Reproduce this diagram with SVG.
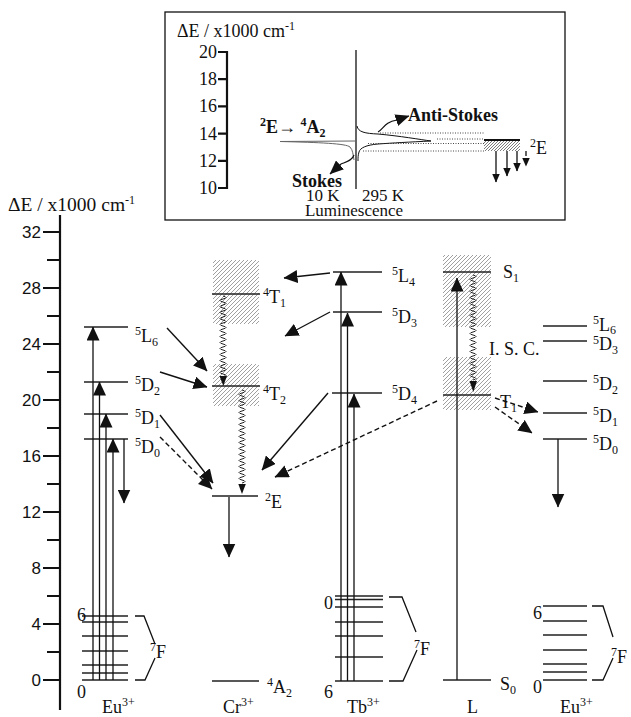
<svg xmlns="http://www.w3.org/2000/svg" width="631" height="717" viewBox="0 0 631 717">
<style>
 .t{font-family:"Liberation Serif","Times New Roman",serif;font-size:18px;fill:#111}
 .s{font-family:"Liberation Sans",Arial,sans-serif;font-size:17px;fill:#111}
 .b{font-weight:bold}
 .sm{font-size:12px}
 .f16{font-size:16px}
 .lv{stroke:#222;stroke-width:1.4;fill:none}
 .ln{stroke:#111;stroke-width:1.3;fill:none}
 .ax{stroke:#111;stroke-width:2.2;fill:none}
 .dash{stroke-dasharray:5 3}
 .wv{stroke:#222;stroke-width:1;fill:none}
 .dot{stroke:#333;stroke-width:0.9;stroke-dasharray:1 1.5;fill:none}
 .hat{fill:url(#hatch)}
 .ah{fill:#111}
</style>
<defs>
 <pattern id="hatch" patternUnits="userSpaceOnUse" width="4" height="4">
  <path d="M-1,1 L1,-1 M0,4 L4,0 M3,5 L5,3" stroke="#888" stroke-width="0.8"/>
 </pattern>
 <pattern id="hatch2" patternUnits="userSpaceOnUse" width="3" height="3">
  <path d="M-1,1 L1,-1 M0,3 L3,0 M2,4 L4,2" stroke="#444" stroke-width="0.7"/>
 </pattern>
 <marker id="ah" markerUnits="userSpaceOnUse" viewBox="0 0 14 13" refX="13.5" refY="6.5" markerWidth="14" markerHeight="13" orient="auto">
  <path d="M0,0 L14,6.5 L0,13 z" fill="#111"/>
 </marker>
 <marker id="ahs" markerUnits="userSpaceOnUse" viewBox="0 0 9 8" refX="8.5" refY="4" markerWidth="9" markerHeight="8" orient="auto">
  <path d="M0,0 L9,4 L0,8 z" fill="#111"/>
 </marker>
 <marker id="ahm" markerUnits="userSpaceOnUse" viewBox="0 0 14 12" refX="13.5" refY="6" markerWidth="14" markerHeight="12" orient="auto">
  <path d="M0,0 L14,6 L0,12 z" fill="#111"/>
 </marker>
</defs>

<!-- inset: 2E -> 4A2 luminescence -->
<g id="inset">
 <rect x="165" y="12" width="400" height="208" fill="none" stroke="#111" stroke-width="1.3"/>
 <text class="t" x="177" y="37">ΔE / x1000 cm<tspan class="sm" dy="-7">-1</tspan></text>
 <path class="ax" d="M227,51 V189 M218,52 H227 M218,79.2 H227 M218,106.4 H227 M218,133.6 H227 M218,160.8 H227 M218,188 H227"/>
 <g class="t" text-anchor="end">
  <text x="217" y="58">20</text>
  <text x="217" y="85">18</text>
  <text x="217" y="112">16</text>
  <text x="217" y="140">14</text>
  <text x="217" y="167">12</text>
  <text x="217" y="194">10</text>
 </g>
 <path class="ln" d="M356,50 V189"/>
 <!-- 10 K band -->
 <path d="M355,141 L280,141.5 C320,142.5 346,143.5 350,147 C353,150 353,155 354,160" fill="none" stroke="#666" stroke-width="1"/>
 <!-- 295 K band -->
 <path d="M357,126 C358,132 365,133.5 378,134 C400,136 420,139.5 431,141 C410,142 392,143 378,144 C366,145 360,148 359,152 C358,155 358,158 358,161" fill="none" stroke="#111" stroke-width="1"/>
 <path class="dot" d="M380,133 H484 M437,139 H484 M368,143.5 H484 M363,151 H484"/>
 <text class="t b" x="260" y="133"><tspan class="sm" dy="-7">2</tspan><tspan dy="7">E→ </tspan><tspan class="sm" dy="-7">4</tspan><tspan dy="7">A</tspan><tspan class="sm" dy="4">2</tspan></text>
 <text class="t b" x="408" y="121">Anti-Stokes</text>
 <text class="t b" x="292" y="187">Stokes</text>
 <path d="M378,132 C384,129 384,122 397,120 L409,116" fill="none" stroke="#111" stroke-width="1.2" marker-end="url(#ahm)"/>
 <path d="M354,155 C352,161 346,162 341,164 L330,174" fill="none" stroke="#111" stroke-width="1.2" marker-end="url(#ahm)"/>
 <rect x="484" y="139" width="36" height="12" fill="url(#hatch2)"/>
 <path d="M484,140 H520" stroke="#111" stroke-width="2"/>
 <path class="ln" d="M496,151 V182" marker-end="url(#ahs)"/>
 <path class="ln" d="M507,151 V176" marker-end="url(#ahs)"/>
 <path class="ln" d="M517,151 V171" marker-end="url(#ahs)"/>
 <path class="ln dash" d="M526,151 V166" marker-end="url(#ahs)"/>
 <text class="t" x="530" y="154"><tspan class="sm" dy="-7">2</tspan><tspan dy="7">E</tspan></text>
 <text class="t" x="306" y="201" style="font-size:17px">10 K</text>
 <text class="t" x="362" y="201" style="font-size:17px">295 K</text>
 <text class="t" x="354" y="216" text-anchor="middle" style="font-size:17px">Luminescence</text>
</g>

<!-- energy axis -->
<g id="axis">
 <text class="t" x="8" y="211" style="font-size:19.5px">ΔE / x1000 cm<tspan class="sm" dy="-7">-1</tspan></text>
 <path class="ax" d="M60,215 V710"/>
 <path class="ax" d="M43,232 H60 M43,288 H60 M43,344 H60 M43,400 H60 M43,456 H60 M43,512 H60 M43,568 H60 M43,624 H60 M43,680 H60"/>
 <path class="ax" d="M47,260 H60 M47,316 H60 M47,372 H60 M47,428 H60 M47,484 H60 M47,540 H60 M47,596 H60 M47,652 H60"/>
 <g class="s" text-anchor="end">
  <text x="41" y="238">32</text>
  <text x="41" y="294">28</text>
  <text x="41" y="350">24</text>
  <text x="41" y="406">20</text>
  <text x="41" y="462">16</text>
  <text x="41" y="518">12</text>
  <text x="41" y="574">8</text>
  <text x="41" y="630">4</text>
  <text x="41" y="686">0</text>
 </g>
</g>

<!-- Eu3+ (left) -->
<g id="eu-left">
 <path class="lv" d="M84,327 H128 M84,382 H128 M84,414 H128 M84,439 H128"/>
 <path class="lv" d="M82,616 H128 M82,622 H128 M82,636 H128 M82,651 H128 M82,665 H128 M82,673 H128 M82,680 H128"/>
 <path class="ln" d="M93,680 V327" marker-end="url(#ah)"/>
 <path class="ln" d="M99.5,680 V382" marker-end="url(#ah)"/>
 <path class="ln" d="M106,680 V414" marker-end="url(#ah)"/>
 <path class="ln" d="M113,680 V439" marker-end="url(#ah)"/>
 <path class="ln" d="M124,439 V503" marker-end="url(#ah)"/>
 <path class="ln" d="M135,616 H144 L155,644 M155,658 L145,680 H135"/>
 <text class="t" x="135" y="342"><tspan class="sm" dy="-7">5</tspan><tspan dy="7">L</tspan><tspan class="sm" dy="4">6</tspan></text>
 <text class="t" x="135" y="391"><tspan class="sm" dy="-7">5</tspan><tspan dy="7">D</tspan><tspan class="sm" dy="4">2</tspan></text>
 <text class="t" x="135" y="424"><tspan class="sm" dy="-7">5</tspan><tspan dy="7">D</tspan><tspan class="sm" dy="4">1</tspan></text>
 <text class="t" x="135" y="453"><tspan class="sm" dy="-7">5</tspan><tspan dy="7">D</tspan><tspan class="sm" dy="4">0</tspan></text>
 <text class="t" x="77" y="621">6</text>
 <text class="t" x="77" y="698">0</text>
 <text class="t" x="150" y="658"><tspan class="sm" dy="-7">7</tspan><tspan dy="7">F</tspan></text>
 <text class="t" x="102" y="713">Eu<tspan class="sm" dy="-7">3+</tspan></text>
</g>

<!-- Cr3+ -->
<g id="cr">
 <rect class="hat" x="213" y="260" width="46" height="64"/>
 <rect class="hat" x="213" y="364" width="46" height="42"/>
 <path class="lv" d="M212,294 H260 M212,386 H260 M212,496 H258 M212,681 H259"/>
 <path class="wv" d="M223,296 q6,1.5 0,3 t0,3 t0,3 t0,3 t0,3 t0,3 t0,3 t0,3 t0,3 t0,3 t0,3 t0,3 t0,3 t0,3 t0,3 t0,3 t0,3 t0,3 t0,3 t0,3 t0,3 t0,3 t0,3 t0,3 t0,3 t0,3 t0,3"/>
 <path class="ah" d="M219.5,376 H227 L223.3,386 z"/>
 <path class="wv" d="M242,390 q6,1.5 0,3 t0,3 t0,3 t0,3 t0,3 t0,3 t0,3 t0,3 t0,3 t0,3 t0,3 t0,3 t0,3 t0,3 t0,3 t0,3 t0,3 t0,3 t0,3 t0,3 t0,3 t0,3 t0,3 t0,3 t0,3 t0,3 t0,3 t0,3 t0,3 t0,3 t0,3"/>
 <path class="ah" d="M238.3,484 H245.8 L242,494 z"/>
 <path class="ln" d="M229,497 V557" marker-end="url(#ah)"/>
 <text class="t" x="263" y="303"><tspan class="sm" dy="-7">4</tspan><tspan dy="7">T</tspan><tspan class="sm" dy="4">1</tspan></text>
 <text class="t" x="263" y="400"><tspan class="sm" dy="-7">4</tspan><tspan dy="7">T</tspan><tspan class="sm" dy="4">2</tspan></text>
 <text class="t" x="265" y="508"><tspan class="sm" dy="-7">2</tspan><tspan dy="7">E</tspan></text>
 <text class="t" x="267" y="693"><tspan class="sm" dy="-7">4</tspan><tspan dy="7">A</tspan><tspan class="sm" dy="4">2</tspan></text>
 <text class="t" x="223" y="713">Cr<tspan class="sm" dy="-7">3+</tspan></text>
</g>

<!-- Tb3+ -->
<g id="tb">
 <path class="lv" d="M333,272 H382 M333,312 H382 M332,393 H382"/>
 <path class="lv" d="M335,596 H383 M335,599.5 H383 M335,607 H383 M335,622 H383 M335,636 H383 M335,657 H383 M335,681 H383"/>
 <path class="ln" d="M341,681 V272" marker-end="url(#ah)"/>
 <path class="ln" d="M347.5,681 V313" marker-end="url(#ah)"/>
 <path class="ln" d="M354,681 V394" marker-end="url(#ah)"/>
 <path class="ln" d="M389,597 H402 L416,632 M417,650 L403,681 H389"/>
 <text class="t" x="392" y="282"><tspan class="sm" dy="-7">5</tspan><tspan dy="7">L</tspan><tspan class="sm" dy="4">4</tspan></text>
 <text class="t" x="392" y="323"><tspan class="sm" dy="-7">5</tspan><tspan dy="7">D</tspan><tspan class="sm" dy="4">3</tspan></text>
 <text class="t" x="392" y="400"><tspan class="sm" dy="-7">5</tspan><tspan dy="7">D</tspan><tspan class="sm" dy="4">4</tspan></text>
 <text class="t" x="324" y="609">0</text>
 <text class="t" x="324" y="698">6</text>
 <text class="t" x="414" y="655"><tspan class="sm" dy="-7">7</tspan><tspan dy="7">F</tspan></text>
 <text class="t" x="347" y="713">Tb<tspan class="sm" dy="-7">3+</tspan></text>
</g>

<!-- ligand L -->
<g id="ligand">
 <rect class="hat" x="443" y="255" width="48" height="72"/>
 <rect class="hat" x="443" y="357" width="48" height="53"/>
 <path class="lv" d="M443,272 H491 M443,395 H491 M443,680 H491"/>
 <path class="ln" d="M457,680 V278" marker-end="url(#ah)"/>
 <path class="wv" d="M473,275 q6,1.5 0,3 t0,3 t0,3 t0,3 t0,3 t0,3 t0,3 t0,3 t0,3 t0,3 t0,3 t0,3 t0,3 t0,3 t0,3 t0,3 t0,3 t0,3 t0,3 t0,3 t0,3 t0,3 t0,3 t0,3 t0,3 t0,3 t0,3 t0,3 t0,3 t0,3 t0,3 t0,3 t0,3 t0,3 t0,3"/>
 <path class="ah" d="M469.5,381 H477 L473.3,392 z"/>
 <text class="t" x="503" y="278">S<tspan class="sm" dy="4">1</tspan></text>
 <text class="t" x="500" y="408">T<tspan class="sm" dy="4">1</tspan></text>
 <text class="t" x="500" y="690">S<tspan class="sm" dy="4">0</tspan></text>
 <text class="t" x="489" y="355">I. S. C.</text>
 <text class="t" x="467" y="713">L</text>
</g>

<!-- Eu3+ (right) -->
<g id="eu-right">
 <path class="lv" d="M543,326 H587 M543,341 H587 M543,381 H587 M543,413 H587 M543,439 H587"/>
 <path class="lv" d="M543,606 H587 M543,621 H587 M543,635 H587 M543,650 H587 M543,664 H587 M543,672 H587 M543,680 H587"/>
 <path class="ln" d="M558,439 V507" marker-end="url(#ah)"/>
 <path class="ln" d="M592,606 H603 L613,637 M613,658 L603,680 H592"/>
 <text class="t" x="593" y="331"><tspan class="sm" dy="-7">5</tspan><tspan dy="7">L</tspan><tspan class="sm" dy="3">6</tspan></text>
 <text class="t" x="593" y="350"><tspan class="sm" dy="-6">5</tspan><tspan dy="6">D</tspan><tspan class="sm" dy="4">3</tspan></text>
 <text class="t" x="593" y="390"><tspan class="sm" dy="-7">5</tspan><tspan dy="7">D</tspan><tspan class="sm" dy="4">2</tspan></text>
 <text class="t" x="593" y="422"><tspan class="sm" dy="-7">5</tspan><tspan dy="7">D</tspan><tspan class="sm" dy="4">1</tspan></text>
 <text class="t" x="593" y="450"><tspan class="sm" dy="-7">5</tspan><tspan dy="7">D</tspan><tspan class="sm" dy="4">0</tspan></text>
 <text class="t" x="533" y="619">6</text>
 <text class="t" x="533" y="693">0</text>
 <text class="t" x="611" y="663"><tspan class="sm" dy="-7">7</tspan><tspan dy="7">F</tspan></text>
 <text class="t" x="560" y="713">Eu<tspan class="sm" dy="-7">3+</tspan></text>
</g>

<!-- energy transfer arrows -->
<g id="connectors" fill="none" stroke="#111" stroke-width="1.4">
 <path d="M167,328 L207,371" marker-end="url(#ah)"/>
 <path d="M160,372 L207,387" marker-end="url(#ah)"/>
 <path d="M160,415 L213,483" marker-end="url(#ah)"/>
 <path class="dash" d="M160,437 L212,489" marker-end="url(#ah)"/>
 <path d="M330,273 L284,278" marker-end="url(#ah)"/>
 <path d="M330,312 L285,336" marker-end="url(#ah)"/>
 <path d="M328,393 L262,470" marker-end="url(#ah)"/>
 <path class="dash" d="M437,401 L275,477" marker-end="url(#ah)"/>
 <path class="dash" d="M495,398 L538,412" marker-end="url(#ah)"/>
 <path class="dash" d="M495,407 L532,433" marker-end="url(#ah)"/>
</g>
</svg>
